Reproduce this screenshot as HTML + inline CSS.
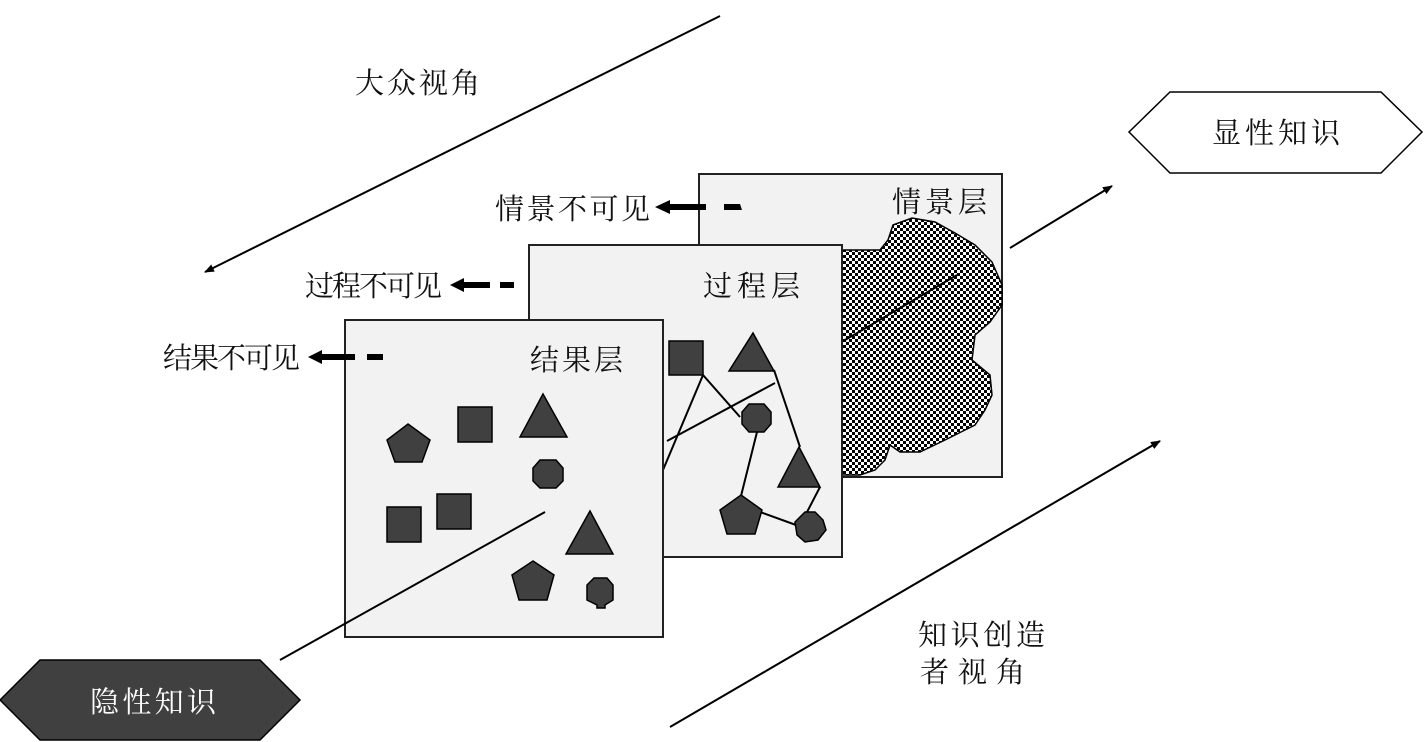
<!DOCTYPE html>
<html><head><meta charset="utf-8"><style>
html,body{margin:0;padding:0;background:#fff;}
svg{display:block;}
text{font-family:"Liberation Sans","Noto Serif CJK SC","Noto Sans CJK SC",serif;font-size:29px;fill:#111;}
</style></head><body>
<svg width="1427" height="742" viewBox="0 0 1427 742" xmlns="http://www.w3.org/2000/svg">
<defs>
<pattern id="chk" width="6" height="6" patternUnits="userSpaceOnUse">
<rect width="6" height="6" fill="#fff"/><rect width="3" height="3" fill="#000"/><rect x="3" y="3" width="3" height="3" fill="#000"/>
</pattern>
<marker id="ah" markerWidth="10" markerHeight="8" refX="9" refY="4" orient="auto" markerUnits="userSpaceOnUse" viewBox="0 0 10 8">
<path d="M0,0 L10,4 L0,8 z" fill="#000"/></marker>
</defs>

<line x1="720" y1="16" x2="205" y2="272" stroke="#000" stroke-width="2" marker-end="url(#ah)"/>
<line x1="1010" y1="248" x2="1112" y2="186" stroke="#000" stroke-width="2" marker-end="url(#ah)"/>
<line x1="670" y1="727" x2="1160" y2="441" stroke="#000" stroke-width="2" marker-end="url(#ah)"/>

<text x="355" y="93" textLength="125" lengthAdjust="spacing">大众视角</text>
<text x="918" y="645" textLength="127" lengthAdjust="spacing">知识创造</text>
<text x="920" y="682" textLength="105" lengthAdjust="spacing">者视角</text>

<polygon points="1129,132 1170,92 1381,92 1422,132 1381,173 1170,173" fill="#fff" stroke="#000" stroke-width="1.5"/>
<text x="1212" y="143" textLength="128" lengthAdjust="spacing">显性知识</text>
<polygon points="0,700 40,660 260,660 300,700 260,740 40,740" fill="#404040" stroke="#000" stroke-width="1.5"/>
<text x="90" y="712" textLength="126" lengthAdjust="spacing" style="fill:#fff">隐性知识</text>

<rect x="699" y="174" width="303" height="303" fill="#f2f2f2" stroke="#222" stroke-width="2"/>
<path d="M842,250 L880,250 L888,240 L893,225 L912,218 L935,222 L955,233 L975,245 L992,262 L1002,285 L1002,305 L990,322 L975,335 L972,360 L990,375 L992,395 L985,410 L975,425 L965,430 L945,440 L920,452 L900,452 L890,445 L885,460 L875,470 L860,475 L842,475 Z" fill="url(#chk)" stroke="#000" stroke-width="1.5"/>
<line x1="845" y1="340" x2="957" y2="275" stroke="#000" stroke-width="2"/>
<text x="892" y="212" textLength="95" lengthAdjust="spacing">情景层</text>

<rect x="529" y="245" width="313" height="312" fill="#f2f2f2" stroke="#222" stroke-width="2"/>
<text x="703" y="296" textLength="97" lengthAdjust="spacing">过程层</text>
<g stroke="#000" stroke-width="2" fill="none">
<line x1="703" y1="375" x2="663" y2="470"/>
<line x1="703" y1="375" x2="740" y2="417"/>
<line x1="667" y1="441" x2="775" y2="383"/>
<line x1="774" y1="370" x2="800" y2="447"/>
<line x1="758" y1="428" x2="741" y2="496"/>
<line x1="741" y1="505" x2="796" y2="525"/>
<line x1="806" y1="514" x2="820" y2="487"/>
</g>
<g fill="#404040" stroke="#000" stroke-width="1.5">
<rect x="669" y="341" width="34" height="34"/>
<polygon points="753,333 774,371 729,371"/>
<polygon points="749,404 764,404 771,412 771,424 764,432 749,432 742,424 742,412"/>
<polygon points="799,447 820,487 778,487"/>
<polygon points="741,495 762,510 755,534 727,534 720,510"/>
<polygon points="805,512 815,512 823,520 826,530 818,540 805,542 797,535 795,522"/>
</g>

<rect x="345" y="320" width="318" height="317" fill="#f2f2f2" stroke="#222" stroke-width="2"/>
<text x="530" y="370" textLength="93" lengthAdjust="spacing">结果层</text>
<line x1="280" y1="660" x2="545" y2="512" stroke="#000" stroke-width="2"/>
<g fill="#404040" stroke="#000" stroke-width="1.5">
<polygon points="408,424 430,440 422,462 395,462 387,440"/>
<rect x="458" y="407" width="34" height="35"/>
<polygon points="543,394 567,437 520,437"/>
<polygon points="540,460 556,460 563,468 563,481 556,488 540,488 533,481 533,468"/>
<rect x="387" y="507" width="34" height="35"/>
<rect x="437" y="494" width="34" height="35"/>
<polygon points="590,511 613,554 566,554"/>
<polygon points="533,561 554,575 547,600 519,600 512,575"/>
<polygon points="594,578 607,578 613,585 613,600 605,605 605,608 597,608 597,605 587,600 587,585"/>
</g>

<g fill="#000">
<text x="495" y="219" textLength="155" lengthAdjust="spacing">情景不可见</text>
<polygon points="655,207 670,200 670,214"/>
<rect x="668" y="204" width="38" height="6"/>
<polygon points="724,204 740,204 742,210 724,210"/>
<text x="305" y="296" textLength="137" lengthAdjust="spacing">过程不可见</text>
<polygon points="450,285 464,278 464,292"/>
<rect x="463" y="282" width="27" height="6"/>
<rect x="500" y="282" width="14" height="6"/>
<text x="163" y="368" textLength="137" lengthAdjust="spacing">结果不可见</text>
<polygon points="308,357 322,350 322,364"/>
<rect x="321" y="354" width="34" height="6"/>
<rect x="367" y="354" width="16" height="6"/>
</g>
</svg>
</body></html>
